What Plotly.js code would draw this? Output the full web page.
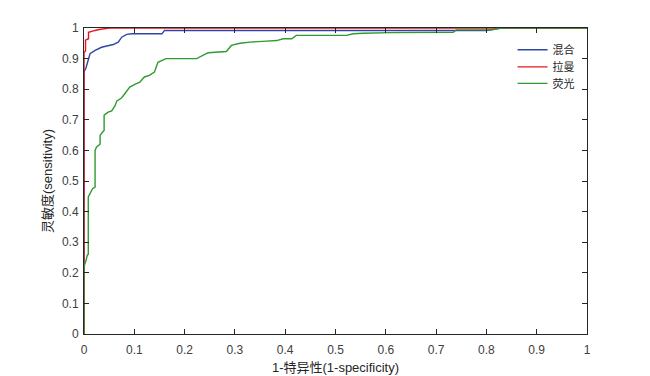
<!DOCTYPE html>
<html>
<head>
<meta charset="utf-8">
<script src="https://cdn.plot.ly/plotly-3.0.1.min.js"></script>
<style>html,body{margin:0;padding:0;background:#fff}#chart{width:650px;height:376px}</style>
</head>
<body>
<div id="chart"></div>
<script>
var seriesNames = ['混合', '拉曼', '荧光'];

var mixX = [0, 0, 0.004, 0.0085, 0.012, 0.022, 0.035, 0.058, 0.068, 0.075, 0.085, 0.095, 0.155, 0.16, 0.8, 0.83, 1];
var mixY = [0, 0.856, 0.87, 0.9, 0.916, 0.927, 0.937, 0.946, 0.954, 0.97, 0.979, 0.981, 0.981, 0.992, 0.992, 1, 1];

var ramanX = [0, 0, 0.003, 0.003, 0.009, 0.009, 0.022, 0.03, 0.05, 1];
var ramanY = [0, 0.92, 0.925, 0.96, 0.965, 0.986, 0.992, 0.995, 1, 1];

var fluorX = [0, 0, 0.004, 0.0066, 0.0085, 0.0085, 0.017, 0.022, 0.022, 0.025, 0.032, 0.032, 0.037, 0.04, 0.04, 0.048, 0.055, 0.062, 0.065, 0.075, 0.081, 0.091, 0.101, 0.111, 0.12, 0.13, 0.14, 0.147, 0.163, 0.224, 0.243, 0.247, 0.283, 0.293, 0.31, 0.33, 0.363, 0.383, 0.396, 0.413, 0.422, 0.522, 0.535, 0.555, 0.61, 0.734, 0.74, 0.81, 0.83, 1];
var fluorY = [0, 0.22, 0.241, 0.258, 0.26, 0.448, 0.475, 0.48, 0.6, 0.611, 0.62, 0.649, 0.66, 0.665, 0.715, 0.725, 0.729, 0.747, 0.761, 0.772, 0.785, 0.807, 0.816, 0.823, 0.84, 0.845, 0.856, 0.888, 0.9, 0.9, 0.916, 0.919, 0.923, 0.943, 0.95, 0.954, 0.957, 0.959, 0.965, 0.965, 0.976, 0.976, 0.981, 0.983, 0.985, 0.986, 0.994, 0.994, 1, 1];

var tickVals = [0, 0.1, 0.2, 0.3, 0.4, 0.5, 0.6, 0.7, 0.8, 0.9, 1];
var tickText = ['0', '0.1', '0.2', '0.3', '0.4', '0.5', '0.6', '0.7', '0.8', '0.9', '1'];

var colors = ['#2c47a6', '#e8141c', '#2f9a2f'];
var legendIds = ['legend', 'legend2', 'legend3'];
var traces = [
  {x: mixX, y: mixY, name: seriesNames[0]},
  {x: ramanX, y: ramanY, name: seriesNames[1]},
  {x: fluorX, y: fluorY, name: seriesNames[2]}
].map(function (t, i) {
  t.type = 'scatter'; t.mode = 'lines';
  t.line = {color: colors[i], width: 1.4};
  t.legend = legendIds[i];
  return t;
});

var fontFam = 'Liberation Sans, Arial, Noto Sans CJK SC, sans-serif';
var axisCommon = {
  range: [0, 1], tickvals: tickVals, ticktext: tickText,
  ticks: 'inside', ticklen: 5, tickwidth: 1, tickcolor: '#262626',
  showline: true, linecolor: '#262626', linewidth: 1, mirror: 'ticks',
  showgrid: false, zeroline: false, fixedrange: true,
  tickfont: {family: fontFam, size: 12, color: '#404040'}
};

function legendAt(yPos) {
  return {
    x: 0.852, y: yPos, xanchor: 'left', yanchor: 'middle',
    bgcolor: 'rgba(0,0,0,0)', borderwidth: 0,
    font: {family: 'Noto Sans CJK SC, sans-serif', size: 11, color: '#262626'}
  };
}

var layout = {
  width: 650, height: 376,
  margin: {l: 84, r: 62.5, t: 27.5, b: 42},
  paper_bgcolor: '#fff', plot_bgcolor: '#fff',
  font: {family: fontFam},
  xaxis: Object.assign({}, axisCommon, {
    ticklabelstandoff: 5,
    title: {text: '1-特异性(1-specificity)', font: {family: fontFam, size: 13, color: '#262626'}, standoff: 6}
  }),
  yaxis: Object.assign({}, axisCommon, {
    ticklabelstandoff: 2,
    title: {text: '灵敏度(sensitivity)', font: {family: fontFam, size: 13, color: '#262626'}, standoff: 6}
  }),
  showlegend: true,
  legend: legendAt(0.929),
  legend2: legendAt(0.873),
  legend3: legendAt(0.819)
};

Plotly.newPlot('chart', traces, layout, {staticPlot: true});
</script>
</body>
</html>
